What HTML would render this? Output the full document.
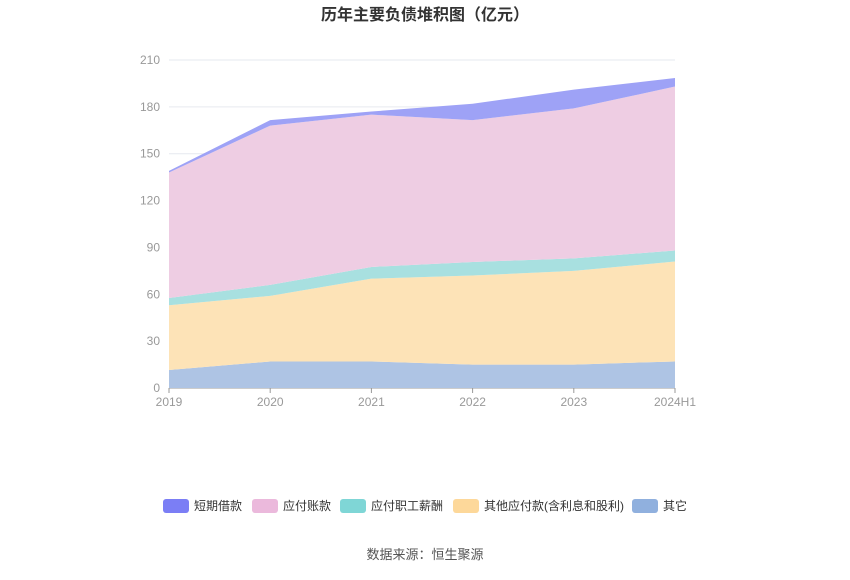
<!DOCTYPE html>
<html><head><meta charset="utf-8"><style>
body{margin:0;background:#fff;font-family:"Liberation Sans","Noto Sans CJK SC",sans-serif;}
#wrap{position:relative;width:850px;height:575px;}
</style></head><body>
<div id="wrap">
<svg id="chart" width="850" height="575">
<text x="425" y="20" text-anchor="middle" font-size="16" font-weight="bold" fill="#333">历年主要负债堆积图（亿元）</text>
<g id="grid"></g><g id="areas"></g><g id="axes"></g><g id="legend"></g>
<text x="425" y="559" text-anchor="middle" font-size="13" fill="#555">数据来源：恒生聚源</text>
</svg></div>
<script>
const categories=["2019","2020","2021","2022","2023","2024H1"];
const seriesNames=["其它","其他应付款(含利息和股利)","应付职工薪酬","应付账款","短期借款"];
const other=[11.5,17,17,15,15,17];
const otherPayables=[41.5,42,53,57,60,64];
const staffPay=[4.6,7,7.5,8.7,8,7];
const accountsPay=[80.4,102,97.5,90.8,96,105];
const shortLoans=[1,3.5,2,10.5,12,5.5];
const yTicks=[0,30,60,90,120,150,180,210];
const fills=["#aec4e4","#fde3b7","#a8e0e0","#eecde3","#9ea2f6"];
const legendColors=["#7b7ef5","#ebb9dc","#7fd6d6","#fdd89a","#90b0de"];
const NS="http://www.w3.org/2000/svg";
const x0=169,x1=675,yb=388,yt=60,ymax=210;
const xs=i=>x0+i*(x1-x0)/(categories.length-1);
const ys=v=>yb-v*(yb-yt)/ymax;
function mk(t,a,p){const e=document.createElementNS(NS,t);for(const k in a)e.setAttribute(k,a[k]);p.appendChild(e);return e;}
const grid=document.getElementById('grid'),axes=document.getElementById('axes');
yTicks.forEach(v=>{
 const l=mk('line',{x1:x0,x2:x1,y1:ys(v),y2:ys(v),stroke:v===0?'#999':'#e6e9ef'},grid);
 
 
 const t=mk('text',{x:x0-9,y:ys(v)+4,'text-anchor':'end','font-size':12,fill:'#999'},axes);
 t.textContent=v;
 
 
});
categories.forEach((c,i)=>{
 const tk=mk('line',{x1:xs(i),x2:xs(i),y1:yb,y2:yb+5,stroke:'#999'},axes);
 
 
 const t=mk('text',{x:xs(i),y:yb+18,'text-anchor':'middle','font-size':12,fill:'#999'},axes);
 t.textContent=c;
 
 
});
const series=[other,otherPayables,staffPay,accountsPay,shortLoans];
let base=categories.map(()=>0);
const areas=document.getElementById('areas');
series.forEach((s,k)=>{
 const top=base.map((b,i)=>b+s[i]);
 let d='M'+top.map((v,i)=>xs(i)+','+ys(v)).join(' L');
 for(let i=categories.length-1;i>=0;i--)d+=' L'+xs(i)+','+ys(base[i]);
 d+=' Z';
 const p=mk('path',{d:d,fill:fills[k]},areas);
 
 
 base=top;
});
const legendOrder=[4,3,2,1,0];
const lg=document.getElementById('legend');
const lx=[163,252,340,453,632];
legendOrder.forEach((k,j)=>{
 const g=mk('g',{},lg);
 
 
 mk('rect',{x:lx[j],y:499,width:26,height:14,rx:3,fill:legendColors[j]},g);
 const t=mk('text',{x:lx[j]+31,y:510,'font-size':12,fill:'#333'},g);
 t.textContent=seriesNames[k];
});
</script>
</body></html>
